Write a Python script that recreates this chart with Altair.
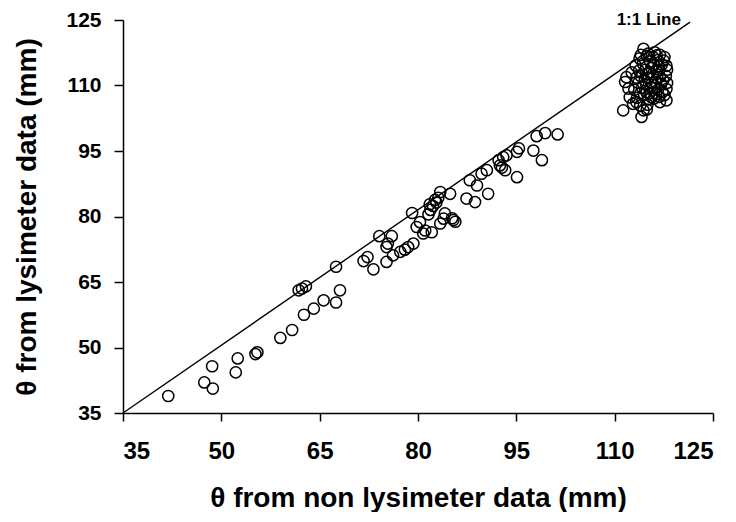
import altair as alt
import pandas as pd

x_low = [41.9, 47.4, 48.7, 48.6, 52.2, 52.5, 55.2, 55.5, 59.0, 60.8, 62.6, 64.1,
         65.6, 67.5, 68.1, 61.8, 62.3, 62.9, 67.5, 71.7, 72.3, 73.2, 74.1, 76.0,
         75.2, 75.4, 75.2, 76.2, 77.3, 78.0, 78.5, 79.3]
y_low = [38.9, 42.0, 40.6, 45.7, 44.3, 47.5, 48.5, 48.9, 52.2, 54.0, 57.5, 58.9,
         60.8, 60.3, 63.1, 63.1, 63.5, 64.0, 68.5, 69.8, 70.7, 67.9, 75.5, 75.5,
         73.0, 73.8, 69.6, 71.1, 71.9, 72.4, 73.0, 73.8]

x_mid = [79.1, 79.8, 80.3, 81.1, 80.8, 81.6, 81.9, 82.3, 82.8, 83.1, 83.4, 82.6,
         81.8, 84.9, 85.2, 85.4, 85.7, 84.1, 83.9, 83.4, 82.1, 87.4, 88.7, 87.9,
         89.0, 90.7, 89.7, 90.5, 92.3, 92.5, 93.0, 93.5, 93.3, 92.8, 95.1, 95.1,
         95.4, 97.6, 98.9, 98.1, 99.4, 101.3]
y_mid = [80.8, 77.6, 78.7, 76.8, 76.1, 80.5, 81.5, 82.4, 83.2, 84.3, 85.6, 83.8,
         82.8, 85.2, 79.6, 79.2, 78.8, 80.7, 79.5, 78.4, 76.4, 84.1, 83.3, 88.3,
         87.1, 85.2, 89.8, 90.6, 92.9, 91.7, 93.6, 94.0, 90.6, 91.2, 89.0, 94.8,
         95.6, 95.1, 92.9, 98.4, 99.1, 98.8]

x_high = [111.3, 111.8, 111.6, 112.1, 112.3, 112.8, 113.9, 114.4, 114.1, 114.4,
          116.1, 117.6, 112.6, 113.2, 113.8, 114.9, 115.4, 116.6, 117.2, 118.0,
          117.8, 118.0, 117.9, 117.6, 117.9, 116.9, 116.0, 115.1, 114.5, 113.4,
          113.0, 113.6, 114.0, 114.7, 115.6, 116.4, 116.9, 116.2, 115.5, 114.8,
          115.2, 116.6, 117.1, 115.8, 114.3, 113.3, 115.9, 116.9, 117.3, 114.9,
          116.3, 113.7, 115.0, 114.9, 116.7,
          115.3, 116.0, 116.8, 115.0, 114.6, 115.7, 116.5, 117.4, 116.1, 115.3,
          114.2, 113.9, 115.6, 116.8, 117.5, 115.1, 114.0, 116.4, 117.9, 113.3]
y_high = [104.3, 111.9, 110.8, 109.3, 107.3, 105.8, 105.4, 104.3, 102.8, 118.4,
          117.6, 116.5, 113.0, 114.6, 116.2, 116.8, 115.5, 115.8, 114.8, 113.6,
          112.2, 110.6, 109.2, 107.8, 106.6, 106.2, 107.0, 106.8, 107.9, 107.2,
          109.0, 110.6, 112.1, 113.6, 114.0, 113.2, 112.0, 110.8, 109.6, 110.2,
          111.8, 109.0, 110.4, 112.6, 115.0, 111.8, 116.5, 117.0, 108.5, 108.5,
          108.0, 113.4, 105.6, 104.5, 114.4,
          113.0, 114.7, 113.6, 112.6, 111.2, 110.6, 111.7, 111.2, 109.4, 108.2,
          109.5, 108.2, 107.3, 107.4, 115.7, 117.3, 117.0, 116.9, 114.5, 106.2]

line_x = [35, 121.5]
line_y = [35, 124.5]
axis_ticks = [35, 50, 65, 80, 95, 110, 125]
note_text = ["1:1 Line"]
note_x = [115.2]
note_y = [124.9]

pts = pd.DataFrame({"x": x_low + x_mid + x_high, "y": y_low + y_mid + y_high})
ln = pd.DataFrame({"x": line_x, "y": line_y})
nt = pd.DataFrame({"x": note_x, "y": note_y, "t": note_text})

FONT = "Liberation Sans"
xs = alt.Scale(domain=[35, 125], nice=False, zero=False)
ys = alt.Scale(domain=[35, 125], nice=False, zero=False)

xaxis = alt.Axis(values=axis_ticks, title="θ from non lysimeter data (mm)", grid=False,
                 labelFontSize=24, labelPadding=18, tickSize=8, titleFontSize=28,
                 titlePadding=21)
yaxis = alt.Axis(values=axis_ticks, title="θ from lysimeter data (mm)", grid=False,
                 labelFontSize=21, labelPadding=13, tickSize=9, titleFontSize=28,
                 titlePadding=24)

points = alt.Chart(pts).mark_point(shape="circle", filled=False, size=125,
                                   strokeWidth=1.5, color="black", opacity=1).encode(
    x=alt.X("x:Q", scale=xs, axis=xaxis),
    y=alt.Y("y:Q", scale=ys, axis=yaxis),
)

line = alt.Chart(ln).mark_line(color="black", strokeWidth=1.4).encode(
    x=alt.X("x:Q", scale=xs, axis=xaxis),
    y=alt.Y("y:Q", scale=ys, axis=yaxis),
)

note = alt.Chart(nt).mark_text(font=FONT, fontWeight="bold", fontSize=17, color="black",
                               align="center", baseline="middle").encode(
    x=alt.X("x:Q", scale=xs),
    y=alt.Y("y:Q", scale=ys),
    text="t:N",
)

chart = alt.layer(line, points, note).properties(
    width=590, height=393,
    autosize=alt.AutoSizeParams(type="none"),
    padding={"left": 115, "top": 12, "right": 13, "bottom": 99},
).configure_view(stroke=None).configure_axis(
    domainColor="black", domainWidth=1.5, tickColor="black", tickWidth=1.5,
    labelFont=FONT, labelFontWeight="bold", labelColor="black",
    titleFont=FONT, titleFontWeight="bold", titleColor="black",
)

chart.save("out.html", embed_options={"renderer": "svg", "actions": False})
